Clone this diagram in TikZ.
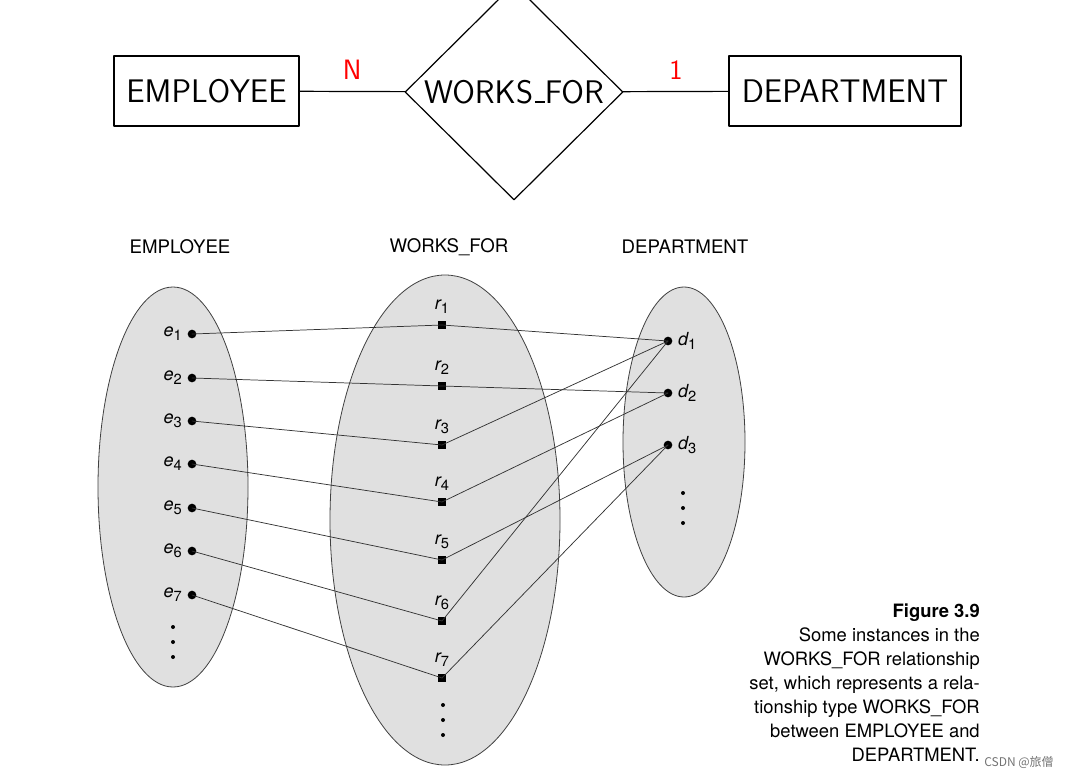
\documentclass[tikz,border=0pt]{standalone}
\usepackage{fontspec}
\newfontfamily\helv{TeX Gyre Heros}
\newfontfamily\cjk{Noto Sans CJK SC}
\usetikzlibrary{shapes.geometric}
\newcommand\ssub[2]{{\itshape #1}\raisebox{-.4ex}{\fontsize{11}{11}\selectfont #2}}
\newcommand\usc{\kern.06em\vbox{\hrule width.3em height.06em}}

\begin{document}
\begin{tikzpicture}[x=0.75pt,y=-0.75pt, line join=round, line cap=round,
	entity/.style={draw, line width=0.9pt, minimum height=52.5pt, inner sep=0pt,
		font=\sffamily\fontsize{24.5}{28}\selectfont},
	rel/.style={draw, diamond, line width=0.9pt, inner sep=0pt, minimum width=163.5pt,
		minimum height=162pt, font=\sffamily\fontsize{24.5}{28}\selectfont},
	card/.style={red, font=\sffamily\fontsize{21}{24}\selectfont},
	head/.style={font=\helv\fontsize{14}{16}\selectfont},
	setfill/.style={draw=black!75, fill=black!12, line width=0.6pt},
	edot/.style={circle, fill=black, inner sep=0pt, minimum size=6.5pt},
	rbox/.style={rectangle, fill=black, inner sep=0pt, minimum size=6.5pt},
	sdot/.style={circle, fill=black, inner sep=0pt, minimum size=3pt},
	lbl/.style={font=\helv\fontsize{13.5}{16}\selectfont, inner sep=1pt},
	link/.style={draw=black!80, line width=0.55pt}]
	\useasboundingbox (0,0) rectangle (1066,778);
	% ER diagram
	\node[entity, minimum width=138.75pt] (emp) at (206.5,91) {EMPLOYEE};
	\node[rel] (wf) at (514,92) {WORKS\usc FOR};
	\node[entity, minimum width=174pt] (dep) at (845,91) {DEPARTMENT};
	\draw[line width=0.9pt] (emp) -- (wf) node[midway, above=5pt, card]{N};
	\draw[line width=0.9pt] (wf) -- (dep) node[midway, above=5pt, card]{1};
	% instance sets
	\node[head] (hemp) at (180,247) {EMPLOYEE};
	\node[head] (hwf) at (449,247) {WORKS\_FOR};
	\node[head] (hdep) at (685,247) {DEPARTMENT};
	\draw[setfill] (173,487) ellipse [x radius=75, y radius=200];
	\draw[setfill] (445,520) ellipse [x radius=115, y radius=245];
	\draw[setfill] (684,442) ellipse [x radius=61, y radius=155];
	\foreach \i/\y in {1/334,2/378,3/421,4/464,5/508,6/551,7/595}
		\node[edot, label={[lbl, label distance=3pt]left:\ssub{e}{\i}}] (e\i) at (192,\y) {};
	\foreach \i/\y in {1/325,2/386,3/445,4/502,5/560,6/621,7/678}
		\node[rbox, label={[lbl, label distance=4pt]above:\ssub{r}{\i}}] (r\i) at (442,\y) {};
	\foreach \i/\y in {1/341,2/393,3/445}
		\node[edot, label={[lbl, label distance=3pt]right:\ssub{d}{\i}}] (d\i) at (668,\y) {};
	\foreach \y [count=\k] in {627,642,657}{
		\node[sdot] (ed\k) at (173,\y) {};
		\node[sdot] (rd\k) at (443,\y+78) {};
		\node[sdot] (dd\k) at (683,\y-134) {};
	}
	\foreach \i in {1,...,7}
		\draw[link] (e\i.center) -- (r\i.center);
	\foreach \i/\j in {1/1,2/2,3/1,4/2,5/3,6/1,7/3}
		\draw[link] (r\i.center) -- (d\j.center);
	% caption
	\node[anchor=north east, align=right, inner sep=0pt,
		font=\helv\fontsize{13.8}{17.9}\selectfont] (cap) at (980,604)
		{\textbf{Figure 3.9}\\Some instances in the\\WORKS\_FOR relationship\\
		set, which represents a rela-\\tionship type WORKS\_FOR\\
		between EMPLOYEE and\\DEPARTMENT.};
	\node[anchor=west, inner sep=0pt, text=black!55,
		font=\cjk\fontsize{9}{10}\selectfont] (mark) at (984,762) {CSDN @旅僧};
\end{tikzpicture}
\end{document}
